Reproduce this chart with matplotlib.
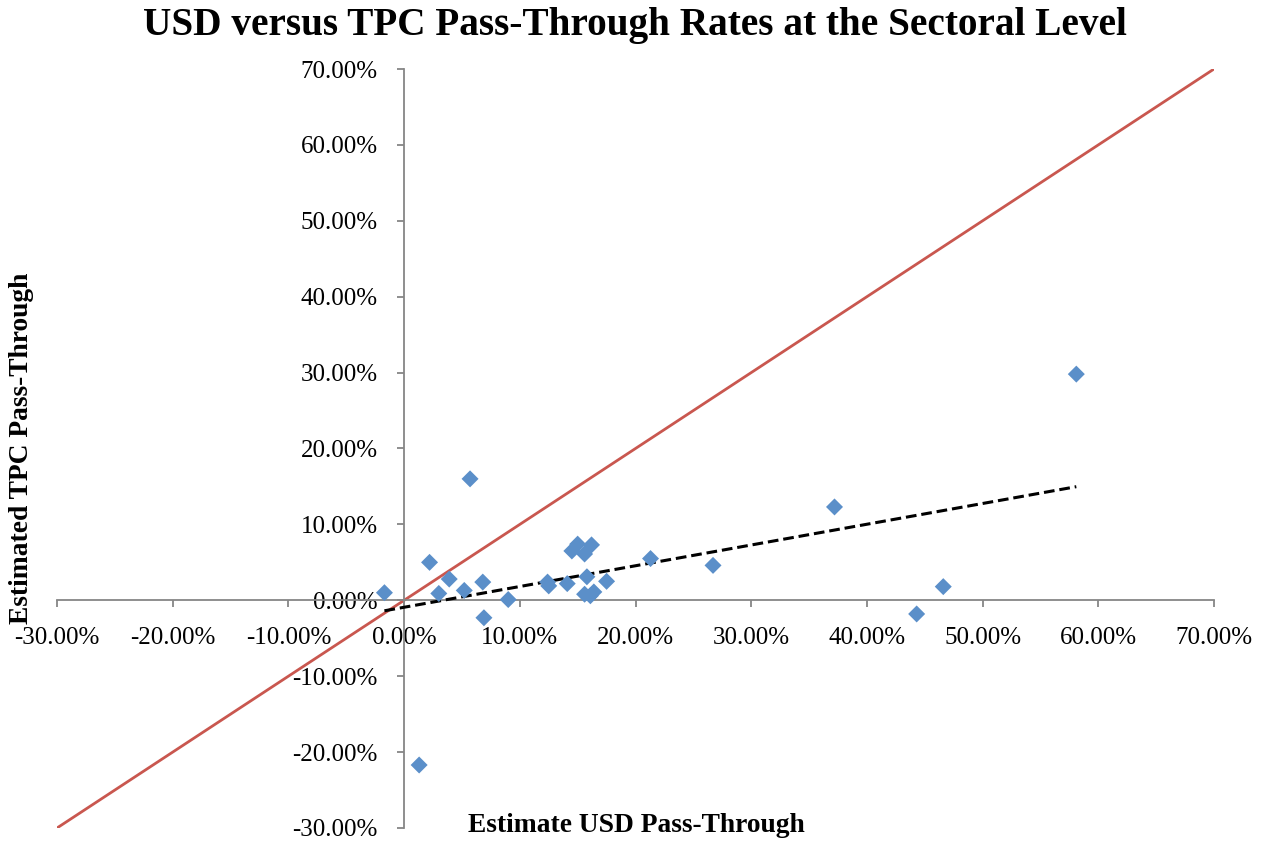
import numpy as np
import matplotlib
matplotlib.use("Agg")
import matplotlib.pyplot as plt
from matplotlib.ticker import FuncFormatter, MultipleLocator

usd = [-1.7, 2.2, 3.9, 3.0, 5.2, 5.7, 6.8, 6.9, 9.0, 12.4, 12.5, 14.1, 14.5, 15.0,
       15.6, 16.2, 15.8, 15.6, 16.1, 16.4, 17.5, 21.3, 26.7, 37.2, 44.3, 46.6, 58.1, 1.3]
tpc = [1.0, 5.0, 2.8, 0.9, 1.3, 16.0, 2.4, -2.3, 0.1, 2.4, 1.9, 2.2, 6.5, 7.4,
       6.1, 7.3, 3.1, 0.8, 0.6, 1.1, 2.5, 5.5, 4.6, 12.3, -1.8, 1.8, 29.8, -21.7]
diag = [-30, 70]

title = "USD versus TPC Pass-Through Rates at the Sectoral Level"
xlabel = "Estimate USD Pass-Through"
ylabel = "Estimated TPC Pass-Through"

plt.rcParams['font.family'] = ['Liberation Serif', 'DejaVu Serif']

fig = plt.figure(figsize=(12.68, 8.48), dpi=100)
ax = fig.add_axes([57/1268, 1-828/848, (1214-57)/1268, (828-69)/848])

ax.plot(diag, diag, color='#C9574F', lw=2.0, zorder=2)
x = np.array(usd); y = np.array(tpc)
b, a = np.polyfit(x, y, 1)
xs = np.array([x.min(), x.max()])
ax.plot(xs, a + b*xs, color='black', lw=2.2, ls=(0, (3.5, 1.6)), zorder=3)
ax.scatter(usd, tpc, marker='D', s=75, color='#5B8FC9', edgecolors='none', zorder=4)

ax.set_xlim(-30, 70)
ax.set_ylim(-30, 70)
ax.xaxis.set_major_locator(MultipleLocator(10))
ax.yaxis.set_major_locator(MultipleLocator(10))
fmt = FuncFormatter(lambda v, p: f"{v:.2f}%")
ax.xaxis.set_major_formatter(fmt)
ax.yaxis.set_major_formatter(fmt)
for s in ['top', 'right']:
    ax.spines[s].set_visible(False)
ax.spines['left'].set_position(('data', 0))
ax.spines['bottom'].set_position(('data', 0))
for s in ['left', 'bottom']:
    ax.spines[s].set_color('#868686')
    ax.spines[s].set_linewidth(1.3)
ax.tick_params(axis='both', colors='#868686', labelcolor='black', labelsize=18,
               length=5, width=1.3, direction='out')
ax.tick_params(axis='y', pad=14)
ax.tick_params(axis='x', pad=14)

fig.text(635/1268, 1-25/848, title, ha='center', va='center', fontsize=28.3, fontweight='bold')
fig.text(636/1268, 1-826/848, xlabel, ha='center', va='center', fontsize=19.8, fontweight='bold')
fig.text(22/1268, 1-448/848, ylabel, ha='center', va='center', fontsize=19.8,
         fontweight='bold', rotation=90)

fig.savefig('out.png', dpi=100)
